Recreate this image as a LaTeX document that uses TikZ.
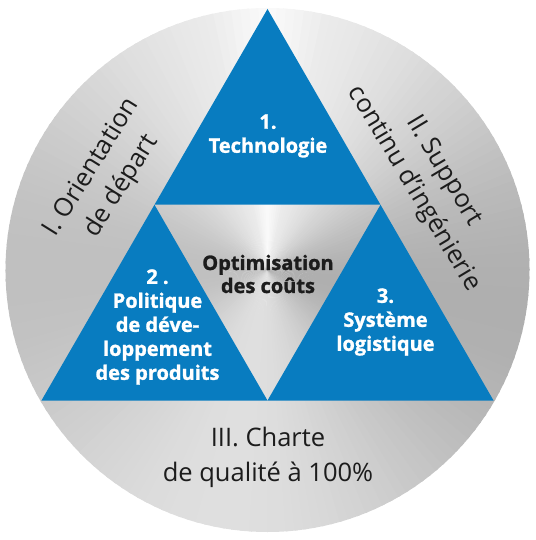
\documentclass[tikz,border=0pt]{standalone}
\usepackage{fontspec}
\setmainfont{Open Sans}
\newfontfamily\heavy[BoldFeatures={FakeBold=1.3}]{Open Sans}
\usepackage{tikz}
\usetikzlibrary{positioning,calc}
\definecolor{blu}{RGB}{8,124,192}
\definecolor{ink}{RGB}{28,28,28}
\tikzstyle{tri} = [fill=blu]
\tikzstyle{w} = [white, font=\heavy\bfseries\fontsize{20}{24}\selectfont, align=center, inner sep=0pt]
\tikzstyle{k} = [ink,   font=\heavy\bfseries\fontsize{20}{23}\selectfont, align=center, inner sep=0pt]
\tikzstyle{g} = [ink,   font=\fontsize{25.5}{35}\selectfont, align=center, inner sep=0pt]

\begin{document}
\begin{tikzpicture}[x=1pt, y=1pt]
		\useasboundingbox (-267.5,-270) rectangle (267.5,270);

		\coordinate (o) at (0,0);
		\coordinate (top) at (90:261pt);
		\coordinate (left) at (210:261pt);
		\coordinate (right) at (330:261pt);
		\coordinate (ml) at ($(top)!0.5!(left)$);
		\coordinate (mr) at ($(top)!0.5!(right)$);
		\coordinate (mb) at ($(left)!0.5!(right)$);

		% brushed metal disc
		\begin{scope}
			\clip (o) circle (262pt);
			\foreach \a in {0,2,...,358} {
				\pgfmathsetmacro\g{min(1,0.81+0.09*cos(2*(\a+1-85))+0.03*sin(\a+1)-0.03*cos(\a+1)+0.05*max(0,1-abs(\a+1-90)/14))}
				\pgfmathsetmacro\b{\a+2.6}
				\definecolor{metal}{gray}{\g}
				\fill[metal] (o) -- (\a:280pt) -- (\b:280pt) -- cycle;
			}
		\end{scope}

		\fill[tri] (top) -- (ml) -- (mr) -- cycle;
		\fill[tri] (ml) -- (left) -- (mb) -- cycle;
		\fill[tri] (mr) -- (mb) -- (right) -- cycle;

		\node[w] (t1) at (0.5,134) {1.\\Technologie};
		\node[k] (t0) at (0.5,-4) {Optimisation\\des coûts};
		\node[w] (t2) at (-110,-57) {2 .\\Politique\\de déve-\\loppement\\des produits};
		\node[w] (t3) at (118,-52) {3.\\Système\\logistique};

		\node[g, rotate=58] (r1) at (-160.5,93) {I. Orientation\\de départ};
		\node[g, rotate=-59] (r2) at (161,90) {II. Support\\continu d’ingénierie};
		\node[g] (r3) at (0.5,-187) {III. Charte\\de qualité à 100\%};
	\end{tikzpicture}
\end{document}
